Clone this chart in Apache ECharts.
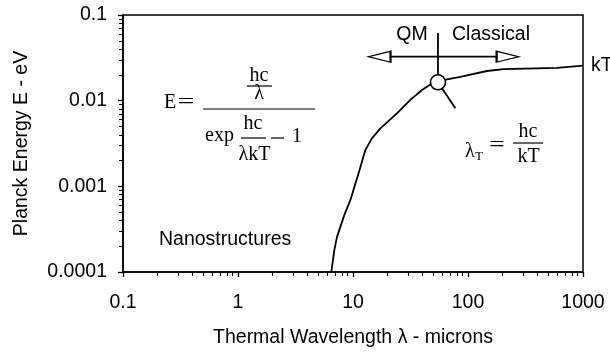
<!DOCTYPE html>
<html>
<head>
<meta charset="utf-8">
<script src="https://cdn.jsdelivr.net/npm/echarts@6/dist/echarts.min.js"></script>
<style>
  html, body { margin: 0; padding: 0; background: #fff; }
  #chart { width: 610px; height: 354px; }
</style>
</head>
<body>
<div id="chart"></div>
<script>
// Planck energy curve (lambda in microns, E in eV)
const lambda = [6.48, 6.88, 7.26, 8.4, 9.48, 10.5, 11.4, 12.8, 14.6, 17.3, 24.1, 31.5, 39.8, 48.6, 54.8, 65.6, 85.7, 146, 204, 594, 614, 1000];
const energy = [0.0001, 0.00018, 0.000257, 0.000461, 0.00069, 0.00108, 0.00155, 0.00265, 0.00363, 0.00475, 0.0071, 0.0102, 0.0133, 0.0159, 0.0164, 0.0177, 0.019, 0.0222, 0.0234, 0.0242, 0.0254, 0.0256];

// thermal wavelength marker
const lambdaT = [54.8];
const energyT = [0.0164];
const markerTopE = 0.0616;
const pointerEnd = [77.6, 0.00813];

// QM / Classical double arrow
const arrowLambda = [17, 221];
const arrowE = 0.0326;

const xMajor = [0.1, 1, 10, 100, 1000];
const yMajor = [0.0001, 0.001, 0.01, 0.1];
const xMinor = [];
const yMinor = [];
xMajor.slice(0, -1).forEach(d => { for (let k = 2; k <= 9; k++) xMinor.push(+(d * k).toPrecision(6)); });
yMajor.slice(0, -1).forEach(d => { for (let k = 2; k <= 9; k++) yMinor.push(+(d * k).toPrecision(6)); });

const SANS = "'Liberation Sans', Arial, sans-serif";
const SERIF = "'Liberation Serif', 'Times New Roman', serif";
const FS = 19.5;

const chart = echarts.init(document.getElementById('chart'), null, { renderer: 'canvas' });

const fmt = v => String(+(+v).toPrecision(6));

function axisBase(extra) {
  return Object.assign({
    type: 'log',
    logBase: 10,
    axisLine: { show: true, lineStyle: { color: '#000', width: 1.6 } },
    splitLine: { show: false },
    minorTick: { show: false },
    minorSplitLine: { show: false }
  }, extra);
}

const seg = (a, b) => [a, b];

chart.setOption({
  animation: false,
  backgroundColor: '#fff',
  textStyle: { fontFamily: SANS },
  grid: {
    left: 123, right: 27, top: 15, bottom: 82,
    show: true, borderColor: '#000', borderWidth: 1.5, backgroundColor: 'transparent'
  },
  xAxis: [
    axisBase({
      position: 'bottom',
      min: 0.1, max: 1000,
      name: 'Thermal Wavelength λ - microns',
      nameLocation: 'middle', nameGap: 56,
      nameTextStyle: { fontSize: FS, color: '#000', fontFamily: SANS },
      axisTick: { show: true, inside: false, length: 5, lineStyle: { color: '#000', width: 1.3 }, customValues: xMajor },
      axisLabel: { margin: 21, fontSize: FS, color: '#000', fontFamily: SANS, formatter: fmt, customValues: xMajor }
    }),
    axisBase({
      position: 'bottom',
      min: 0.1, max: 1000,
      axisLine: { show: false },
      axisTick: { show: true, inside: false, length: 4, lineStyle: { color: '#000', width: 1.1 }, customValues: xMinor },
      axisLabel: { show: false }
    })
  ],
  yAxis: [
    axisBase({
      position: 'left',
      min: 0.0001, max: 0.1,
      name: 'Planck Energy E - eV',
      nameLocation: 'middle', nameGap: 91,
      nameTextStyle: { fontSize: FS, color: '#000', fontFamily: SANS },
      axisTick: { show: true, inside: false, length: 5, lineStyle: { color: '#000', width: 1.3 }, customValues: yMajor },
      axisLabel: { margin: 16, fontSize: FS, color: '#000', fontFamily: SANS, formatter: fmt, customValues: yMajor }
    }),
    axisBase({
      position: 'left',
      min: 0.0001, max: 0.1,
      axisLine: { show: false },
      axisTick: { show: true, inside: false, length: 4, lineStyle: { color: '#000', width: 1.1 }, customValues: yMinor },
      axisLabel: { show: false }
    })
  ],
  series: [
    {
      type: 'line',
      data: lambda.map((l, i) => [l, energy[i]]),
      symbol: 'none',
      lineStyle: { color: '#000', width: 1.8 },
      endLabel: { show: true, formatter: 'kT', color: '#000', fontSize: FS, fontFamily: SANS, distance: 8 },
      z: 3
    },
    {
      type: 'line',
      data: seg([lambdaT[0], markerTopE], [lambdaT[0], energyT[0]]),
      symbol: 'none', lineStyle: { color: '#000', width: 1.8 }, z: 3
    },
    {
      type: 'line',
      data: seg([lambdaT[0], energyT[0]], pointerEnd),
      symbol: 'none', lineStyle: { color: '#000', width: 1.8 }, z: 3
    },
    {
      type: 'line',
      data: seg([arrowLambda[0], arrowE], [arrowLambda[1], arrowE]),
      symbol: 'none', lineStyle: { color: '#000', width: 1.8 }, z: 3
    },
    {
      type: 'scatter',
      data: [
        { value: [arrowLambda[0], arrowE], symbolRotate: 90 },
        { value: [arrowLambda[1], arrowE], symbolRotate: -90 }
      ],
      symbol: 'triangle',
      symbolSize: [11, 22],
      itemStyle: { color: '#fff', borderColor: '#000', borderWidth: 1.6, opacity: 1 },
      z: 4
    },
    {
      type: 'scatter',
      data: [[lambdaT[0], energyT[0]]],
      symbol: 'circle',
      symbolSize: 15,
      itemStyle: { color: '#fff', borderColor: '#000', borderWidth: 1.6, opacity: 1 },
      z: 5
    }
  ],
  graphic: [
    // labels
    { type: 'text', x: 412, y: 35, style: { text: 'QM', font: `${FS}px ${SANS}`, fill: '#000', align: 'center', verticalAlign: 'middle' } },
    { type: 'text', x: 452, y: 35, style: { text: 'Classical', font: `${FS}px ${SANS}`, fill: '#000', align: 'left', verticalAlign: 'middle' } },
    { type: 'text', x: 159, y: 240, style: { text: 'Nanostructures', font: `${FS}px ${SANS}`, fill: '#000', align: 'left', verticalAlign: 'middle' } },

    // E = (hc/λ) / (exp(hc/λkT) - 1)
    { type: 'text', x: 164, y: 103, style: { text: 'E', font: `20px ${SERIF}`, fill: '#000', align: 'left', verticalAlign: 'middle' } },
    { type: 'text', x: 186, y: 103, scaleX: 1.5, style: { text: '=', font: `20px ${SERIF}`, fill: '#000', align: 'center', verticalAlign: 'middle' } },
    { type: 'text', x: 259, y: 76, style: { text: 'hc', font: `20px ${SERIF}`, fill: '#000', align: 'center', verticalAlign: 'middle' } },
    { type: 'line', shape: { x1: 247, y1: 86, x2: 272, y2: 86 }, style: { stroke: '#000', lineWidth: 1.2 } },
    { type: 'text', x: 259, y: 94, style: { text: 'λ', font: `20px ${SERIF}`, fill: '#000', align: 'center', verticalAlign: 'middle' } },
    { type: 'line', shape: { x1: 203, y1: 109, x2: 315, y2: 109 }, style: { stroke: '#000', lineWidth: 1.2 } },
    { type: 'text', x: 205, y: 136, style: { text: 'exp', font: `20px ${SERIF}`, fill: '#000', align: 'left', verticalAlign: 'middle' } },
    { type: 'text', x: 253, y: 124, style: { text: 'hc', font: `20px ${SERIF}`, fill: '#000', align: 'center', verticalAlign: 'middle' } },
    { type: 'line', shape: { x1: 241, y1: 138, x2: 266, y2: 138 }, style: { stroke: '#000', lineWidth: 1.2 } },
    { type: 'text', x: 254.5, y: 155, style: { text: 'λkT', font: `20px ${SERIF}`, fill: '#000', align: 'center', verticalAlign: 'middle' } },
    { type: 'line', shape: { x1: 271, y1: 138, x2: 284, y2: 138 }, style: { stroke: '#000', lineWidth: 1.2 } },
    { type: 'text', x: 292, y: 137, style: { text: '1', font: `20px ${SERIF}`, fill: '#000', align: 'left', verticalAlign: 'middle' } },

    // λT = hc/kT
    { type: 'text', x: 465, y: 152, style: { text: 'λ', font: `20px ${SERIF}`, fill: '#000', align: 'left', verticalAlign: 'middle' } },
    { type: 'text', x: 475, y: 157, style: { text: 'T', font: `13px ${SERIF}`, fill: '#000', align: 'left', verticalAlign: 'middle' } },
    { type: 'text', x: 497, y: 146, scaleX: 1.4, style: { text: '=', font: `20px ${SERIF}`, fill: '#000', align: 'center', verticalAlign: 'middle' } },
    { type: 'text', x: 528, y: 132, style: { text: 'hc', font: `20px ${SERIF}`, fill: '#000', align: 'center', verticalAlign: 'middle' } },
    { type: 'line', shape: { x1: 513, y1: 143, x2: 543, y2: 143 }, style: { stroke: '#000', lineWidth: 1.2 } },
    { type: 'text', x: 528.5, y: 157, style: { text: 'kT', font: `20px ${SERIF}`, fill: '#000', align: 'center', verticalAlign: 'middle' } }
  ]
});
</script>
</body>
</html>
